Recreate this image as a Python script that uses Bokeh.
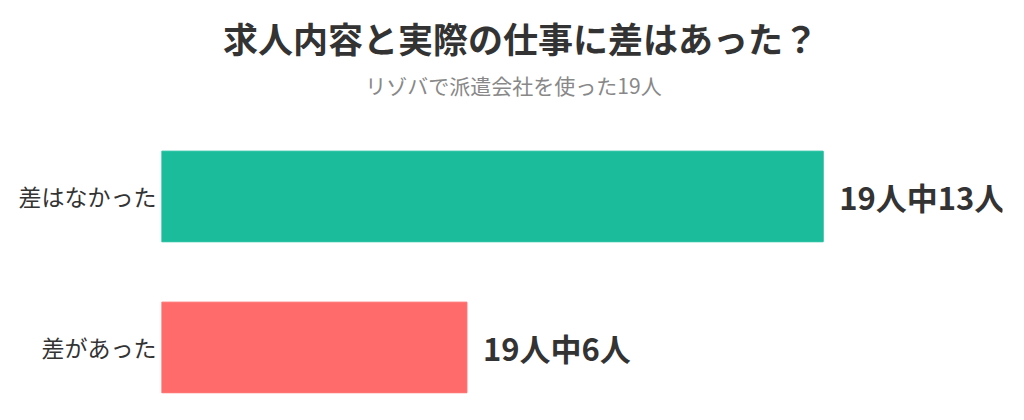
from bokeh.plotting import figure
from bokeh.models import Range1d, FixedTicker, ColumnDataSource, Label
from bokeh.core.properties import value
from bokeh.embed import file_html
from bokeh.resources import INLINE

title_text = "求人内容と実際の仕事に差はあった？"
subtitle_text = "リゾバで派遣会社を使った19人"
categories = ["差はなかった", "差があった"]
counts = [13, 6]
total = 19
bar_colors = ["#1ABC9C", "#FF6B6B"]
value_labels = [f"{total}人中{c}人" for c in counts]

FONT_NAME = "Noto Sans CJK JP"
FONT = value(FONT_NAME)

W, H = 1008, 405
BL, BR, BT, BB = 161, 6, 0, 4
FW, FH = W - BL - BR, H - BT - BB

n = len(categories)
ypos = [n - 1 - i for i in range(n)]
src = ColumnDataSource(dict(y=ypos, right=counts, color=bar_colors,
                            label=value_labels, cat=categories))

p = figure(width=W, height=H, output_backend="svg", toolbar_location=None,
           x_range=Range1d(0, FW / 50.9), y_range=Range1d(-0.358, 2.298),
           min_border_left=BL, min_border_right=BR, min_border_top=BT, min_border_bottom=BB,
           outline_line_color=None)
p.hbar(y="y", left=0, right="right", height=0.6, color="color", source=src)
p.text(x="right", y="y", text="label", source=src, x_offset=16,
       text_font=FONT, text_font_size="31px", text_font_style="bold",
       text_color="#333333", text_baseline="middle", text_align="left")

# title and subtitle (screen units relative to the plot frame)
p.add_layout(Label(x=520 - BL, y=FH - 37, x_units="screen", y_units="screen",
                   text=title_text, text_font=FONT_NAME, text_font_size="35px",
                   text_font_style="bold", text_color="#333333",
                   text_align="center", text_baseline="middle"))
p.add_layout(Label(x=513 - BL, y=FH - 84, x_units="screen", y_units="screen",
                   text=subtitle_text, text_font=FONT_NAME, text_font_size="21px",
                   text_color="#888888", text_align="center", text_baseline="middle"))

p.xaxis.visible = False
p.grid.visible = False
p.yaxis.ticker = FixedTicker(ticks=ypos)
p.yaxis.major_label_overrides = {y: c for y, c in zip(ypos, categories)}
p.yaxis.axis_line_color = None
p.yaxis.major_tick_line_color = None
p.yaxis.minor_tick_line_color = None
p.yaxis.major_tick_out = 0
p.yaxis.major_tick_in = 0
p.yaxis.major_label_text_font = FONT_NAME
p.yaxis.major_label_text_font_size = "23px"
p.yaxis.major_label_text_color = "#333333"
p.yaxis.major_label_standoff = 5

open("out.html", "w").write(file_html(p, INLINE))
